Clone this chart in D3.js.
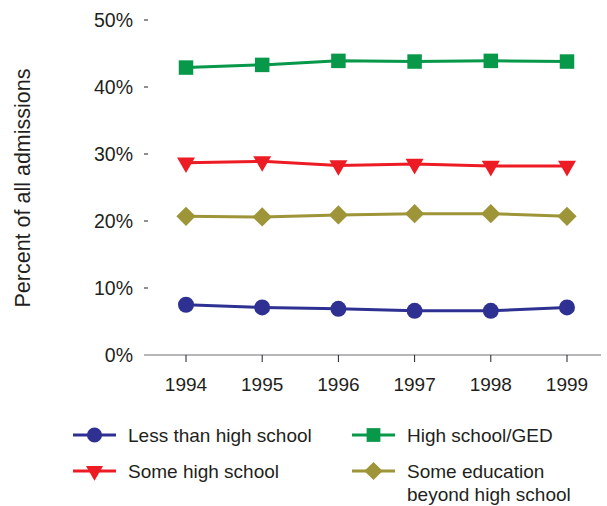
<!DOCTYPE html>
<html><head><meta charset="utf-8">
<script src="https://cdn.jsdelivr.net/npm/d3@7"></script>
<style>body{margin:0;background:#fff}svg{display:block}text{font-family:"Liberation Sans",Arial,sans-serif;fill:#231f20}</style>
</head><body><svg id="c" width="607" height="506"></svg>
<script>
const years = [1994, 1995, 1996, 1997, 1998, 1999];
const lessThanHS = [7.5, 7.1, 6.9, 6.6, 6.6, 7.1];
const someHS = [28.7, 28.9, 28.3, 28.5, 28.2, 28.2];
const highSchoolGED = [42.9, 43.3, 43.9, 43.8, 43.9, 43.8];
const someBeyond = [20.7, 20.6, 20.9, 21.1, 21.1, 20.7];
const yTicks = [0, 10, 20, 30, 40, 50];
const seriesNames = ["Less than high school", "Some high school", "High school/GED", "Some education beyond high school"];

const series = [
  {name: seriesNames[0], values: lessThanHS, color: "#2e3192", sym: d3.symbolCircle, size: 200, rot: 0},
  {name: seriesNames[1], values: someHS, color: "#ed1c24", sym: d3.symbolTriangle, size: 140, rot: 180},
  {name: seriesNames[2], values: highSchoolGED, color: "#07984a", sym: d3.symbolSquare, size: 210, rot: 0},
  {name: seriesNames[3], values: someBeyond, color: "#9e9438", sym: d3.symbolSquare, size: 185, rot: 45}
];

const svg = d3.select("#c");
const x = d3.scalePoint().domain(years).range([186, 567]);
const y = d3.scaleLinear().domain([0, 50]).range([355, 20]);

// y axis ticks (small dashes) and labels
const ya = svg.append("g");
ya.selectAll("line").data(yTicks.filter(d => d > 0)).join("line")
  .attr("x1", 144).attr("x2", 148).attr("y1", d => y(d)).attr("y2", d => y(d))
  .attr("stroke", "#231f20").attr("stroke-width", 1);
ya.selectAll("text").data(yTicks).join("text")
  .attr("x", 133).attr("y", d => y(d)).attr("dy", "0.36em")
  .attr("text-anchor", "end").attr("font-size", 19.5).text(d => d + "%");

// x axis
svg.append("line").attr("x1", 144).attr("x2", 601).attr("y1", 355).attr("y2", 355)
  .attr("stroke", "#6d6e71").attr("stroke-width", 1);
const xa = svg.append("g");
xa.selectAll("line").data(years).join("line")
  .attr("x1", d => x(d)).attr("x2", d => x(d)).attr("y1", 355).attr("y2", 362)
  .attr("stroke", "#231f20").attr("stroke-width", 1);
xa.selectAll("text").data(years).join("text")
  .attr("x", d => x(d)).attr("y", 391).attr("text-anchor", "middle")
  .attr("font-size", 19).text(d => d);

// y label
svg.append("text").attr("transform", "translate(30,188) rotate(-90)")
  .attr("text-anchor", "middle").attr("font-size", 21.5).text("Percent of all admissions");

const line = d3.line().x((d, i) => x(years[i])).y(d => y(d));
series.forEach(s => {
  const g = svg.append("g");
  g.append("path").attr("d", line(s.values)).attr("fill", "none")
    .attr("stroke", s.color).attr("stroke-width", 3);
  g.selectAll("path.m").data(s.values).join("path").attr("class", "m")
    .attr("d", d3.symbol().type(s.sym).size(s.size))
    .attr("transform", (d, i) => `translate(${x(years[i])},${y(d)}) rotate(${s.rot})`)
    .attr("fill", s.color);
});

// legend
const legPos = [[73, 435], [73, 471], [352, 435], [352, 471]];
series.forEach((s, i) => {
  const [lx, ly] = legPos[i];
  const g = svg.append("g").attr("transform", `translate(${lx},${ly})`);
  g.append("line").attr("x1", 0).attr("x2", 43).attr("stroke", s.color).attr("stroke-width", 3);
  g.append("path").attr("d", d3.symbol().type(s.sym).size(s.size * 0.9))
    .attr("transform", `translate(21.5,0) rotate(${s.rot})`).attr("fill", s.color);
  const t = g.append("text").attr("x", 55).attr("dy", "0.36em").attr("font-size", 19);
  if (i === 3) {
    t.append("tspan").attr("x", 55).text("Some education");
    t.append("tspan").attr("x", 55).attr("dy", 23).text("beyond high school");
  } else t.text(s.name);
});
</script></body></html>
